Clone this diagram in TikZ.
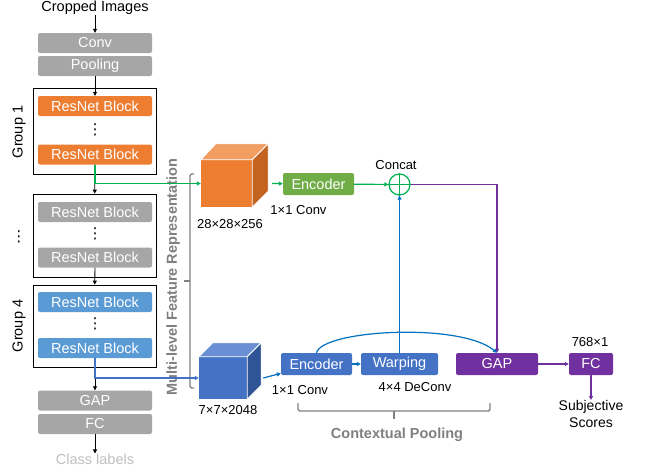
\documentclass[tikz,border=0pt]{standalone}
\usepackage{fontspec}
\setmainfont{Liberation Sans}
\newfontfamily\symfont{DejaVu Sans}
\usetikzlibrary{arrows.meta,positioning,calc}
\definecolor{boxgray}{HTML}{A6A6A6}
\definecolor{resorange}{HTML}{ED7D31}
\definecolor{orangetop}{HTML}{F29D62}
\definecolor{orangeside}{HTML}{C4621F}
\definecolor{resblue}{HTML}{5B9BD5}
\definecolor{encblue}{HTML}{4472C4}
\definecolor{bluetop}{HTML}{6B8FD4}
\definecolor{blueside}{HTML}{2F5597}
\definecolor{encgreen}{HTML}{70AD47}
\definecolor{linegreen}{HTML}{00B050}
\definecolor{lineblue}{HTML}{0070C0}
\definecolor{gappurple}{HTML}{7030A0}
\definecolor{bracegray}{HTML}{7F7F7F}
\definecolor{clsgray}{HTML}{BFBFBF}
\tikzset{
  blk/.style={rounded corners=2pt, text=white, minimum width=114, minimum height=20,
    inner sep=0pt, font=\fontsize{14.5}{16}\selectfont},
  grayblk/.style={blk, fill=boxgray},
  orangeblk/.style={blk, fill=resorange},
  blueblk/.style={blk, fill=resblue},
  encblk/.style={blk, minimum width=71, minimum height=22},
  grp/.style={draw, line width=0.8pt, inner sep=0pt, minimum width=123},
  dotsn/.style={inner sep=0pt, font=\fontsize{15}{16}\symfont},
  lbl/.style={inner sep=0pt, font=\fontsize{13}{15}\selectfont},
  graylbl/.style={inner sep=0pt, text=bracegray, font=\fontsize{14.5}{16}\selectfont\bfseries},
  flow/.style={-{Triangle[length=4pt,width=4pt]}, line width=0.8pt},
  gflow/.style={flow, draw=linegreen, line width=1.2pt},
  bflow/.style={flow, draw=lineblue, line width=1.2pt},
  pflow/.style={flow, draw=gappurple, line width=1.2pt},
  brace/.style={draw=bracegray, line width=1.4pt, rounded corners=1.5pt},
  face/.style={draw=white, line width=0.8pt},
}
\begin{document}
\begin{tikzpicture}[x=1pt,y=-1pt]
\useasboundingbox (0,0) rectangle (645,472);
% backbone
\node[lbl, font=\fontsize{14.5}{16}\selectfont] (img) at (95,8) {Cropped Images};
\node[grayblk] (conv) at (95,43) {Conv};
\node[grayblk] (pool) at (95,66) {Pooling};
\node[grp, minimum height=86] (g1) at (94.5,131) {};
\node[orangeblk] (r1a) at (95,106) {ResNet Block};
\node[dotsn] (d1) at (95,130) {⋮};
\node[orangeblk] (r1b) at (95,154.5) {ResNet Block};
\node[lbl, font=\fontsize{14.5}{16}\selectfont, rotate=90] (lg1) at (19,132) {Group 1};
\node[grp, minimum height=83] (g2) at (94.5,235.5) {};
\node[grayblk] (r2a) at (95,212) {ResNet Block};
\node[dotsn] (d2) at (95,234) {⋮};
\node[grayblk] (r2b) at (95,257.5) {ResNet Block};
\node[dotsn] (lg2) at (19,237) {⋮};
\node[grp, minimum height=82] (g4) at (94.5,326) {};
\node[blueblk] (r4a) at (95,302) {ResNet Block};
\node[dotsn] (d4) at (95,324) {⋮};
\node[blueblk] (r4b) at (95,348) {ResNet Block};
\node[lbl, font=\fontsize{14.5}{16}\selectfont, rotate=90] (lg4) at (19,326) {Group 4};
\node[grayblk] (gap) at (95,400.5) {GAP};
\node[grayblk] (fc) at (95,424) {FC};
\node[lbl, font=\fontsize{14.5}{16}\selectfont, text=clsgray] (cls) at (95,459) {Class labels};
\draw[flow] (img) -- (conv);
\draw[flow] (pool) -- (r1a);
\draw[flow] (r1b) -- (g2);
\draw[flow] (r2b) -- (g4);
\draw[flow] (r4b) -- (gap);
\draw[flow] (fc) -- (cls);
% multi-level features
\draw[brace] (194,174) -- (190,174) -- (190,388) -- (194,388);
\draw[brace] (190,281) -- (184,281);
\node[graylbl, rotate=90] (mlf) at (173,277) {Multi-level Feature Representation};
% cubes
\node[fill=resorange, inner sep=0pt, minimum width=51, minimum height=47] (c1) at (226.5,183.5) {};
\filldraw[face, fill=orangetop] (c1.north west) -- ++(15,-16) -- ([shift={(16,-16)}]c1.north east) -- (c1.north east) -- cycle;
\filldraw[face, fill=orangeside] (c1.north east) -- ++(16,-16) -- ([shift={(16,-16)}]c1.south east) -- (c1.south east) -- cycle;
\node[lbl] (s1) at (230,224) {28×28×256};
\node[fill=encblue, inner sep=0pt, minimum width=48, minimum height=42] (c2) at (223,378) {};
\filldraw[face, fill=bluetop] (c2.north west) -- ++(14,-14) -- ([shift={(14,-14)}]c2.north east) -- (c2.north east) -- cycle;
\filldraw[face, fill=blueside] (c2.north east) -- ++(14,-14) -- ([shift={(14,-14)}]c2.south east) -- (c2.south east) -- cycle;
\node[lbl] (s2) at (228,410) {7×7×2048};
\draw[gflow] (r1b.south) |- (c1.west);
\draw[flow, draw=encblue, line width=1.2pt] (r4b.south) |- (c2.west);
% top branch
\node[encblk, fill=encgreen] (enc1) at (318.5,184) {Encoder};
\node[lbl] (k1) at (298.5,210) {1×1 Conv};
\node[draw=linegreen, line width=1.2pt, circle, minimum size=21, inner sep=0pt] (cat) at (399.5,184.5) {};
\draw[linegreen, line width=1.2pt] (cat.north) -- (cat.south) (cat.west) -- (cat.east);
\node[lbl] (catl) at (396,165) {Concat};
% bottom branch
\node[encblk, fill=encblue] (enc2) at (316.5,364) {Encoder};
\node[encblk, fill=encblue, minimum width=77] (warp) at (399.5,364) {Warping};
\node[lbl] (k2) at (300,390) {1×1 Conv};
\node[lbl] (k3) at (415,387) {4×4 DeConv};
\node[encblk, fill=gappurple, minimum width=82] (gap2) at (497,364) {GAP};
\node[encblk, fill=gappurple, minimum width=44] (fc2) at (591,364) {FC};
\node[lbl] (dim) at (590,342) {768×1};
\node[lbl, align=center, font=\fontsize{14}{17}\selectfont, anchor=north] (subj) at (591,400) {Subjective\\Scores};
\draw[gflow] ([xshift=20pt]c1.east) -- (enc1);
\draw[gflow] (enc1) -- (cat);
\draw[pflow] (cat.east) -| (gap2.north);
\draw[bflow] (warp.north) -- (cat.south);
\draw[bflow] ([xshift=16pt]c2.east) -- (enc2);
\draw[bflow] (enc2) -- (warp);
\draw[bflow] (enc2.north) .. controls (322,330) and (460,322) .. (gap2.north);
\draw[pflow] (gap2) -- (fc2);
\draw[pflow] (fc2) -- (subj);
% contextual pooling
\draw[brace] (298,403) -- (298,411) -- (490,411) -- (490,403);
\draw[brace] (394,411) -- (394,419);
\node[graylbl] (cp) at (397,435) {Contextual Pooling};
\end{tikzpicture}
\end{document}
